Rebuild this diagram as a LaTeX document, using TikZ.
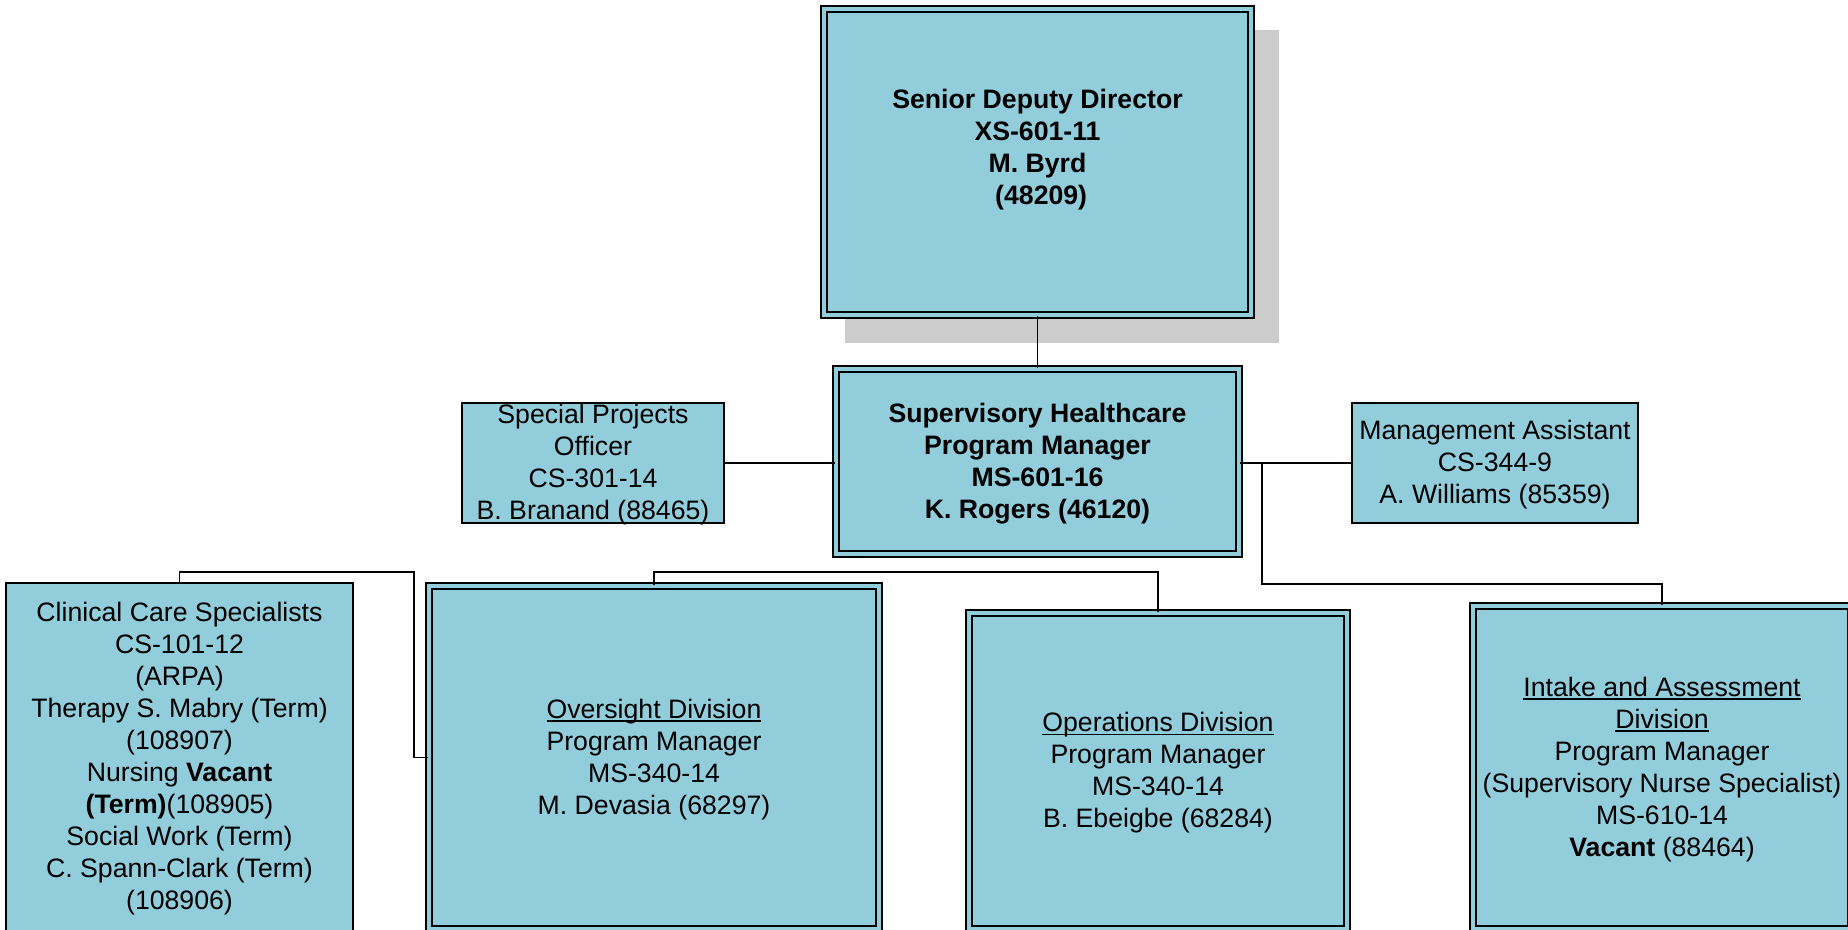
\documentclass[tikz,border=0pt]{standalone}
\usepackage{fontspec}
\setmainfont{Liberation Sans}

\definecolor{boxblue}{RGB}{146,205,220}
\definecolor{shadowgray}{RGB}{204,204,204}
\newcommand{\chartfont}{\fontsize{20}{24}\selectfont}
\newcommand{\divtitle}[1]{\setbox0\hbox{#1}\rlap{\rule[-2.6pt]{\wd0}{1pt}}\box0}

\tikzset{every picture/.style={line width=1.2pt}}
\tikzset{
	post/.style={draw, fill=boxblue, rectangle, inner sep=0pt, align=center, line width=1.5pt, font=\chartfont},
	divpost/.style={post, double=boxblue, double distance=2.5pt, text depth=1.5pt},
	posttext/.style={inner sep=0pt, align=center, font=\chartfont\bfseries}
}

\begin{document}
\begin{tikzpicture}[x=0.75pt,y=0.75pt,yscale=-1,xscale=1]
		\useasboundingbox (0,0) rectangle (1848,930);
		
		%Shadow of the top box
		\fill[shadowgray] (845,30) rectangle (1279,343);
		
		%Top: Senior Deputy Director
		\node[divpost, minimum width=427*0.75pt, minimum height=306*0.75pt] (sdd) at (1037.5,162) {};
		\node[posttext] (sddtext) at (1037.5,149.5) {Senior Deputy Director\\XS-601-11\\M. Byrd\\\hspace*{5.5pt}(48209)};
		
		%Middle row
		\node[divpost, font=\chartfont\bfseries, minimum width=403*0.75pt, minimum height=185*0.75pt] (shm) at (1037.5,461.5) {Supervisory Healthcare\\Program Manager\\MS-601-16\\K. Rogers (46120)};
		\node[post, text depth=1.5pt, minimum width=262*0.75pt, minimum height=120*0.75pt] (spo) at (593,463) {Special Projects\\Officer\\CS-301-14\\B. Branand (88465)};
		\node[post, text depth=1.5pt, minimum width=286*0.75pt, minimum height=120*0.75pt] (mga) at (1495,463) {Management Assistant\\CS-344-9\\A. Williams (85359)};
		
		%Bottom row
		\node[post, minimum width=347*0.75pt, minimum height=352*0.75pt] (ccs) at (179.5,759) {Clinical Care Specialists\\CS-101-12\\(ARPA)\\Therapy S. Mabry (Term)\\(108907)\\Nursing \textbf{Vacant}\\\textbf{(Term)}(108905)\\Social Work (Term)\\C. Spann-Clark (Term)\\(108906)};
		\node[divpost, minimum width=450*0.75pt, minimum height=343*0.75pt] (ovd) at (654,757.5) {\divtitle{Oversight Division}\\Program Manager\\MS-340-14\\M. Devasia (68297)};
		\node[divpost, minimum width=378*0.75pt, minimum height=316*0.75pt] (opd) at (1158,771) {\divtitle{Operations Division}\\Program Manager\\MS-340-14\\B. Ebeigbe (68284)};
		\node[divpost, minimum width=378*0.75pt, minimum height=323*0.75pt] (iad) at (1662,767.5) {\divtitle{Intake and Assessment}\\\divtitle{Division}\\Program Manager\\(Supervisory Nurse Specialist)\\MS-610-14\\\textbf{Vacant} (88464)};
		
		%Connectors
		\coordinate (iadbend) at (1262,584);
		\coordinate (divbar) at (654,572);
		\coordinate (ccsbend) at (414,572);
		\draw (sdd) -- (shm);
		\draw (spo.east) -- (spo.east -| shm.west);
		\draw (shm.east |- mga.west) -- (mga.west);
		\draw (iadbend |- mga.west) -- (iadbend) -| (iad.north);
		\draw (ovd.north) -- (divbar) -| (opd.north);
		\draw (ovd.west) -| (ccsbend) -| (ccs.north);
		
	\end{tikzpicture}
\end{document}
